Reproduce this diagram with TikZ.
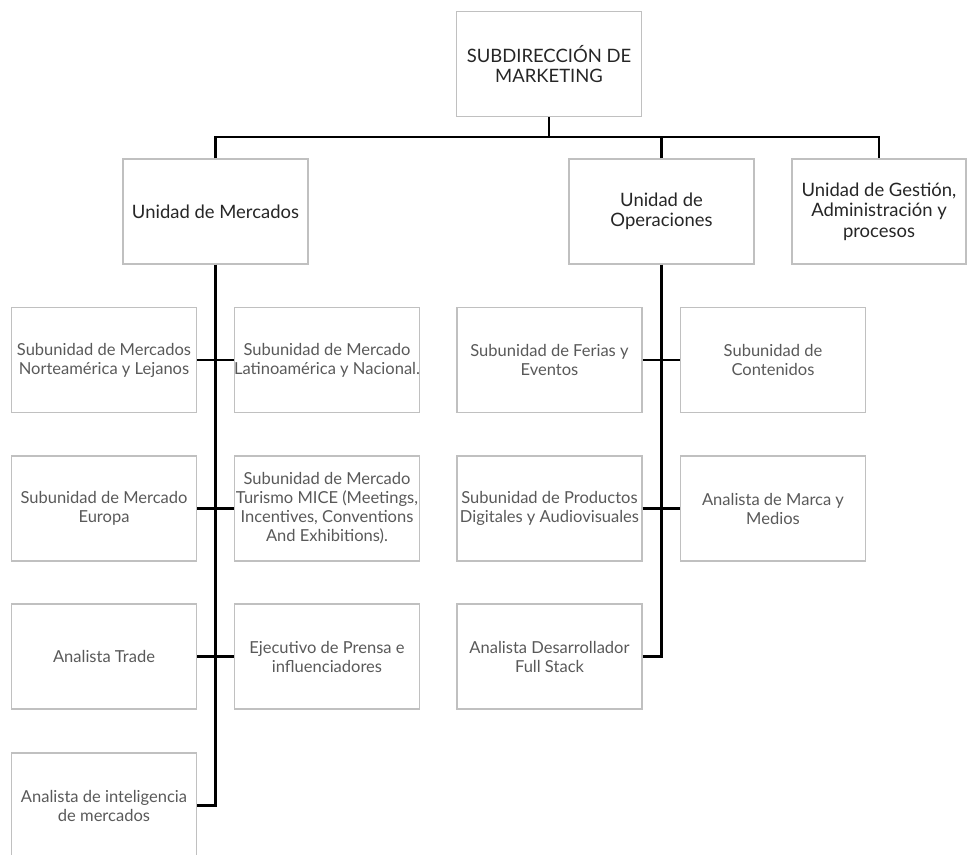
\documentclass[tikz,border=0pt]{standalone}
\usepackage{fontspec}
\setmainfont{Lato}
\usetikzlibrary{positioning}
\definecolor{boxgray}{HTML}{C0C0C0}
\definecolor{txtgray}{HTML}{595959}
\definecolor{headtxt}{HTML}{262626}

\begin{document}
\begin{tikzpicture}[x=0.02cm,y=-0.02cm,
unitblock/.style={draw=boxgray,line width=0.6pt,rectangle,inner sep=0pt,minimum width=3.7cm,minimum height=2.1cm,align=center,text=headtxt,font=\fontsize{10.5}{11.6}\selectfont},
subblock/.style={draw=boxgray,line width=0.6pt,rectangle,inner sep=0pt,minimum width=3.7cm,minimum height=2.1cm,align=center,text=txtgray,font=\fontsize{9.4}{10.8}\selectfont},
link/.style={line width=1.2pt,black}]

\useasboundingbox (0,0) rectangle (967,855);

\node[unitblock] (dir) at (549,64) {SUBDIRECCIÓN DE\\MARKETING};
\node[unitblock] (mer) at (215.5,211.5) {Unidad de Mercados};
\node[unitblock] (ope) at (661.5,211.5) {Unidad de\\Operaciones};
\node[unitblock,minimum width=3.48cm] (ges) at (879,211.5) {Unidad de Gestión,\\Administración y\\procesos};

% Unidad de Mercados
\node[subblock] (m1) at (104,360) {Subunidad de Mercados\\Norteamérica y Lejanos};
\node[subblock] (m2) at (327,360) {Subunidad de Mercado\\Latinoamérica y Nacional.};
\node[subblock] (m3) at (104,508.5) {Subunidad de Mercado\\Europa};
\node[subblock] (m4) at (327,508.5) {Subunidad de Mercado\\Turismo MICE (Meetings,\\Incentives, Conventions\\And Exhibitions).};
\node[subblock] (m5) at (104,656.5) {Analista Trade};
\node[subblock] (m6) at (327,656.5) {Ejecutivo de Prensa e\\influenciadores};
\node[subblock] (m7) at (104,805.5) {Analista de inteligencia\\de mercados};

% Unidad de Operaciones
\node[subblock] (o1) at (549.5,360) {Subunidad de Ferias y\\Eventos};
\node[subblock] (o2) at (773,360) {Subunidad de\\Contenidos};
\node[subblock] (o3) at (549.5,508.5) {Subunidad de Productos\\Digitales y Audiovisuales};
\node[subblock] (o4) at (773,508.5) {Analista de Marca y\\Medios};
\node[subblock] (o5) at (549.5,656.5) {Analista Desarrollador\\Full Stack};

\coordinate (bus) at (549,137);

\draw[link] (dir.south) -- (dir.south |- bus);
\draw[link] (mer.north) -- (mer.north |- bus) -- (ges.north |- bus) -- (ges.north);
\draw[link] (ope.north) -- (ope.north |- bus);

\draw[link] (mer.south) -- (mer.south |- m7.east);
\draw[link] (m1.east) -- (m2.west);
\draw[link] (m3.east) -- (m4.west);
\draw[link] (m5.east) -- (m6.west);
\draw[link] (m7.east) -| (mer.south);

\draw[link] (ope.south) -- (ope.south |- o5.east);
\draw[link] (o1.east) -- (o2.west);
\draw[link] (o3.east) -- (o4.west);
\draw[link] (o5.east) -| (ope.south);
\end{tikzpicture}
\end{document}
